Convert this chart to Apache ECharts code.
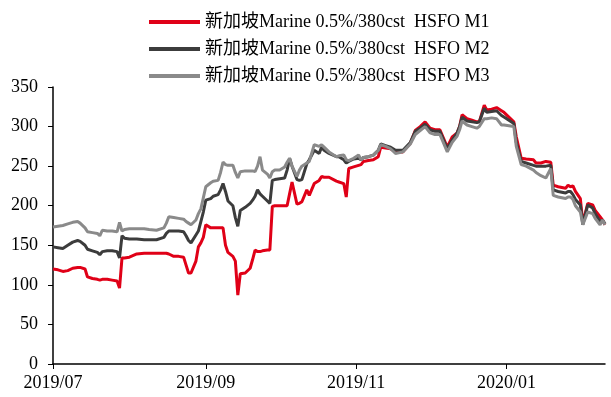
<!DOCTYPE html>
<html>
<head>
<meta charset="utf-8">
<script src="https://cdn.jsdelivr.net/npm/echarts@6/dist/echarts.min.js"></script>
<style>
  html, body { margin: 0; padding: 0; background: #fff; }
  #main { width: 611px; height: 397px; }
</style>
</head>
<body>
<div id="main"></div>
<script>
var startDay = '2019-07-01';
var endDay = '2020-02-10';
var yTicks = [0, 50, 100, 150, 200, 250, 300, 350];
var names = [
  '新加坡Marine 0.5%/380cst  HSFO M1',
  '新加坡Marine 0.5%/380cst  HSFO M2',
  '新加坡Marine 0.5%/380cst  HSFO M3'
];

var dates = [
  '2019-07-01','2019-07-03','2019-07-05','2019-07-07','2019-07-09','2019-07-11','2019-07-12','2019-07-14',
  '2019-07-15','2019-07-17','2019-07-19','2019-07-20','2019-07-21','2019-07-23','2019-07-25','2019-07-27',
  '2019-07-28','2019-07-29','2019-07-30','2019-08-01','2019-08-04','2019-08-07','2019-08-09','2019-08-12',
  '2019-08-15','2019-08-16','2019-08-17','2019-08-19','2019-08-21','2019-08-23','2019-08-24','2019-08-25',
  '2019-08-26','2019-08-28','2019-08-29','2019-08-30','2019-08-31','2019-09-01','2019-09-03','2019-09-04',
  '2019-09-06','2019-09-07','2019-09-08','2019-09-09','2019-09-10','2019-09-12','2019-09-13','2019-09-14',
  '2019-09-15','2019-09-17','2019-09-19','2019-09-20','2019-09-21','2019-09-22','2019-09-23','2019-09-24',
  '2019-09-26','2019-09-27','2019-09-28','2019-09-29','2019-10-01','2019-10-03','2019-10-04','2019-10-05',
  '2019-10-06','2019-10-08','2019-10-09','2019-10-10','2019-10-12','2019-10-13','2019-10-15','2019-10-17',
  '2019-10-18','2019-10-19','2019-10-21','2019-10-24','2019-10-25','2019-10-27','2019-10-28','2019-10-29',
  '2019-10-31','2019-11-02','2019-11-03','2019-11-04','2019-11-06','2019-11-08','2019-11-10','2019-11-11',
  '2019-11-13','2019-11-15','2019-11-17','2019-11-20','2019-11-23','2019-11-25','2019-11-27','2019-11-29',
  '2019-12-01','2019-12-03','2019-12-05','2019-12-08','2019-12-10','2019-12-12','2019-12-13','2019-12-14',
  '2019-12-16','2019-12-18','2019-12-20','2019-12-21','2019-12-23','2019-12-24','2019-12-26','2019-12-28',
  '2019-12-30','2019-12-31','2020-01-02','2020-01-04','2020-01-05','2020-01-07','2020-01-09','2020-01-12',
  '2020-01-13','2020-01-15','2020-01-17','2020-01-19','2020-01-20','2020-01-22','2020-01-25','2020-01-26',
  '2020-01-27','2020-01-28','2020-01-29','2020-01-31','2020-02-01','2020-02-03','2020-02-05','2020-02-06',
  '2020-02-08','2020-02-09','2020-02-10'
];

var m1 = [
  120,119,117,118,121,122,122,120, 110,108,107,106,107,107,106,105,
  96,134,134,135,139,140,140,140, 140,140,139,136,136,135,125,115,
  115,130,148,153,160,176,172,172, 172,172,172,150,141,136,130,87,
  114,115,121,132,144,142,142,143, 144,144,199,200,200,200,200,215,
  230,202,203,205,220,213,228,232, 237,236,236,231,230,228,211,247,
  249,251,252,256,257,258,262,274, 273,272,268,268,279,295,300,306,
  298,296,296,274,287,292,300,315, 310,308,306,306,327,321,322,324,
  320,318,312,306,287,260,259,258, 254,254,256,255,226,224,222,226,
  224,225,218,209,178,203,201,194, 186,182,176
];

var m2 = [
  148,147,146,150,154,156,155,150, 145,143,141,138,142,143,143,142,
  134,162,159,158,158,157,157,157, 160,165,168,168,168,167,162,156,
  153,163,168,180,192,207,209,212, 214,220,228,218,206,200,185,174,
  194,198,203,207,212,220,215,212, 206,203,232,233,234,235,245,260,
  250,233,232,233,253,258,270,266, 274,270,266,262,262,258,254,256,
  259,260,258,261,262,264,270,278, 276,274,270,270,280,294,298,303,
  296,294,294,272,283,292,300,312, 307,306,305,306,323,318,319,320,
  314,312,308,304,280,256,254,251, 250,250,250,251,220,218,216,218,
  218,214,208,201,176,201,197,190, 180,182,177
];

var m3 = [
  173,174,175,177,179,180,178,172, 167,166,165,162,169,168,168,167,
  179,168,170,171,171,171,170,169, 172,178,186,185,184,183,180,178,
  176,182,190,196,210,224,229,231, 232,242,255,252,251,251,242,235,
  243,244,244,244,243,250,262,245, 240,235,243,245,245,249,255,260,
  250,237,245,250,254,256,277,275, 277,274,268,262,263,264,258,257,
  260,264,258,261,262,264,270,277, 275,272,266,268,278,290,295,300,
  292,290,290,268,280,288,296,307, 302,300,298,300,310,310,311,310,
  302,302,301,300,275,252,250,245, 242,238,235,247,213,211,209,211,
  211,208,200,192,176,192,190,184, 176,182,176
];

// every calendar day on the axis, so the dates sit where they belong
var days = [];
var d = new Date(startDay + 'T00:00:00Z');
var last = new Date(endDay + 'T00:00:00Z');
while (d <= last) {
  days.push(d.toISOString().slice(0, 10));
  d.setUTCDate(d.getUTCDate() + 1);
}

function isMark(index, value) {
  var mo = parseInt(value.slice(5, 7), 10);
  return value.slice(8) === '01' && mo % 2 === 1;
}

function pairs(vals) {
  return dates.map(function (t, i) { return [t, vals[i]]; });
}

var font = "'Liberation Serif', 'Times New Roman', 'Noto Sans CJK SC', serif";
var colors = ['#e00017', '#3c3c3c', '#8a8a8a'];

var chart = echarts.init(document.getElementById('main'));
var option = {
  animation: false,
  color: colors,
  textStyle: { fontFamily: font },
  legend: {
    orient: 'vertical',
    left: 144,
    top: 8,
    itemWidth: 51,
    itemHeight: 4,
    itemGap: 9,
    icon: 'rect',
    textStyle: { fontFamily: font, fontSize: 18, color: '#000' },
    data: names
  },
  grid: { left: 53, right: 6, top: 87, bottom: 33 },
  xAxis: {
    type: 'category',
    data: days,
    boundaryGap: false,
    axisLine: { lineStyle: { color: '#000', width: 1.5 } },
    axisTick: { interval: isMark, length: 5, lineStyle: { color: '#000' } },
    axisLabel: {
      interval: isMark,
      margin: 10,
      fontFamily: font,
      fontSize: 18,
      color: '#000',
      formatter: function (v) { return v.slice(0, 4) + '/' + v.slice(5, 7); }
    },
    splitLine: { show: false }
  },
  yAxis: {
    type: 'value',
    min: yTicks[0],
    max: yTicks[yTicks.length - 1],
    interval: 50,
    axisLine: { show: true, lineStyle: { color: '#000', width: 1.5 } },
    axisTick: { show: true, length: 5, lineStyle: { color: '#000' } },
    axisLabel: { margin: 15, fontFamily: font, fontSize: 18, color: '#000' },
    splitLine: { show: false }
  },
  series: [m1, m2, m3].map(function (vals, i) {
    return {
      name: names[i],
      type: 'line',
      data: pairs(vals),
      showSymbol: false,
      symbol: 'none',
      lineStyle: { width: 3, color: colors[i] }
    };
  })
};
option && chart.setOption(option);
</script>
</body>
</html>
